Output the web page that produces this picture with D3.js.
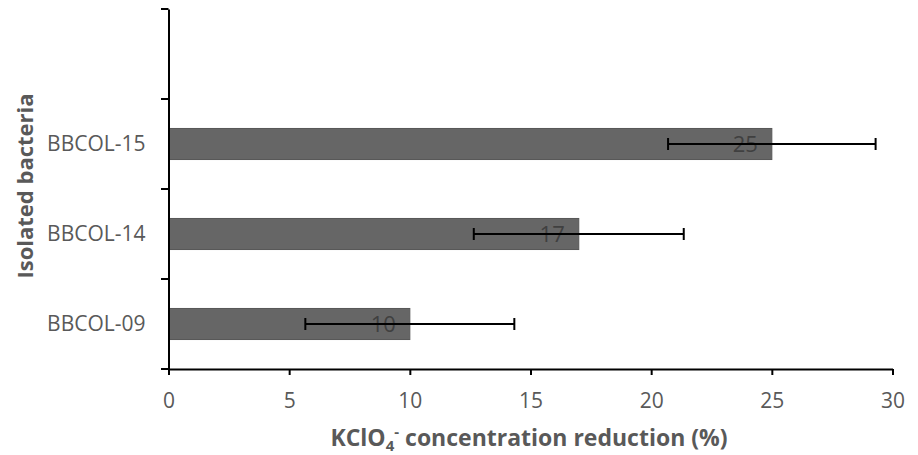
<!DOCTYPE html>
<html><head><meta charset="utf-8">
<script src="https://cdn.jsdelivr.net/npm/d3@7/dist/d3.min.js"></script>
<style>body{margin:0;background:#fff}svg{display:block}</style>
</head><body><svg id="c" width="918" height="455"></svg>
<script>
const categories = ["", "BBCOL-15", "BBCOL-14", "BBCOL-09"];
const barCategories = ["BBCOL-15", "BBCOL-14", "BBCOL-09"];
const values = [25, 17, 10];
const errors = [4.3, 4.35, 4.33];
const xTicks = [0, 5, 10, 15, 20, 25, 30];

const svg = d3.select("#c");
const font = "'Open Sans', 'Noto Sans', sans-serif";
const x = d3.scaleLinear().domain([0, 30]).range([168.5, 892.5]);
const y = d3.scaleBand().domain(categories).range([9, 369]).paddingInner(0.655).paddingOuter(0.3275);
const yb = d3.scaleBand().domain(categories).range([9, 369]);

// bars
svg.selectAll("rect.bar").data(barCategories).join("rect")
  .attr("x", x(0)).attr("y", d => y(d))
  .attr("width", (d, i) => x(values[i]) - x(0)).attr("height", y.bandwidth())
  .attr("fill", "#666666").attr("stroke", "#575757").attr("stroke-width", 1);

// labels inside end
svg.selectAll("text.lab").data(barCategories).join("text")
  .attr("x", (d, i) => x(values[i]) - 14).attr("y", d => y(d) + y.bandwidth() / 2 + 8)
  .attr("text-anchor", "end").attr("font-family", font).attr("font-size", 22)
  .attr("fill", "#404040").text((d, i) => values[i]);

// error bars
const eg = svg.append("g").attr("stroke", "#000").attr("stroke-width", 2);
barCategories.forEach((d, i) => {
  const cy = y(d) + y.bandwidth() / 2;
  const x1 = x(values[i] - errors[i]), x2 = x(values[i] + errors[i]);
  eg.append("line").attr("x1", x1).attr("x2", x2).attr("y1", cy).attr("y2", cy);
  eg.append("line").attr("x1", x1).attr("x2", x1).attr("y1", cy - 6).attr("y2", cy + 6);
  eg.append("line").attr("x1", x2).attr("x2", x2).attr("y1", cy - 6).attr("y2", cy + 6);
});

// x axis
const xa = svg.append("g").attr("transform", "translate(0,369)")
  .call(d3.axisBottom(x).tickValues(xTicks).tickSize(6).tickSizeOuter(0).tickPadding(18));
xa.select(".domain").attr("stroke", "#000").attr("stroke-width", 2);
xa.selectAll(".tick line").attr("stroke", "#000").attr("stroke-width", 2);
xa.selectAll(".tick text").attr("font-family", font).attr("font-size", 21).attr("fill", "#595959");

// y axis
const ya = svg.append("g").attr("transform", "translate(168.5,0)")
  .call(d3.axisLeft(yb).tickSize(0).tickPadding(23));
ya.select(".domain").attr("stroke", "#000").attr("stroke-width", 2);
ya.selectAll(".tick text").attr("font-family", font).attr("font-size", 21).attr("fill", "#595959");
// boundary ticks
const bounds = categories.map(c => yb(c)).concat([369]);
svg.append("g").selectAll("line").data(bounds).join("line")
  .attr("x1", 161).attr("x2", 168.5).attr("y1", d => d).attr("y2", d => d)
  .attr("stroke", "#000").attr("stroke-width", 2);

// titles
const xt = svg.append("text").attr("x", 529).attr("y", 446).attr("text-anchor", "middle")
  .attr("font-family", font).attr("font-size", 23).attr("font-weight", "bold").attr("fill", "#595959");
xt.append("tspan").text("KClO");
xt.append("tspan").attr("font-size", 15).attr("dy", 5).text("4");
xt.append("tspan").attr("font-size", 15).attr("dy", -14).text("-");
xt.append("tspan").attr("dy", 9).text(" concentration reduction (%)");

svg.append("text").attr("transform", "translate(33,186) rotate(-90)").attr("text-anchor", "middle")
  .attr("font-family", font).attr("font-size", 22).attr("font-weight", "bold").attr("fill", "#595959")
  .text("Isolated bacteria");
</script></body></html>
